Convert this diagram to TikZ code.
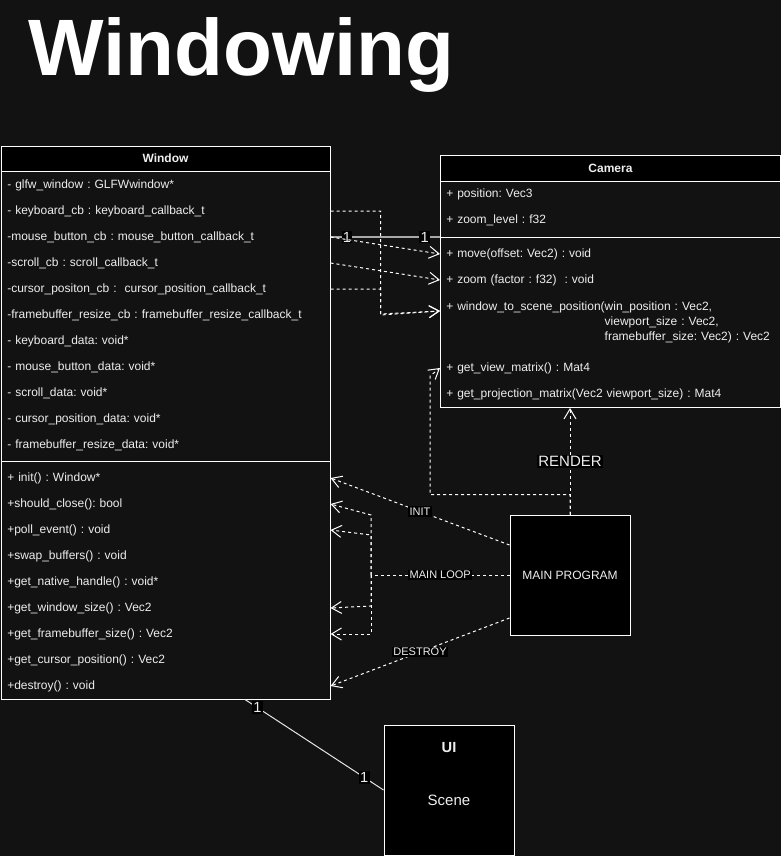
\documentclass[tikz,border=0pt]{standalone}
\usepackage{fontspec}
\setmainfont{Liberation Sans}
\usetikzlibrary{arrows.meta,positioning,calc}
\frenchspacing

\definecolor{bgdark}{HTML}{121212}
\definecolor{fgtext}{HTML}{EEEEEE}
\definecolor{assocline}{HTML}{A8A8A8}

\tikzset{
  classbox/.style={draw=white, fill=bgdark, line width=0.75pt, inner sep=0pt},
  classhead/.style={draw=white, fill=black, text=fgtext, font=\fontsize{9pt}{11pt}\selectfont\bfseries, inner sep=0pt, minimum height=18.75pt},
  member/.style={anchor=west, text=fgtext, font=\fontsize{9pt}{11.25pt}\selectfont, inner xsep=4.5pt, inner ysep=0pt, minimum height=19.5pt, align=left},
  wmember/.style={member, text width=237.75pt},
  cmember/.style={member, text width=246pt},
  dep/.style={draw=white, line width=0.75pt, dash pattern=on 2.25pt off 2.25pt, -{Straight Barb[length=7.5pt,width=9pt]}},
  plainbox/.style={draw=white, fill=black, line width=0.75pt, text=fgtext},
  lbl/.style={fill=black, text=fgtext, inner sep=1pt, font=\fontsize{8.25pt}{10pt}\selectfont},
  mult/.style={fill=black, text=fgtext, inner sep=1pt, font=\fontsize{11pt}{13pt}\selectfont},
}

\begin{document}
\begin{tikzpicture}[x=0.75pt, y=-0.75pt]
    \fill[bgdark] (0,0) rectangle (781,856);
    \useasboundingbox (0,0) rectangle (781,856);

    \node[anchor=base west, inner sep=0pt, text=white, font=\fontsize{60pt}{60pt}\selectfont\bfseries] (title) at (28,75) {Windowing};

    % Window class
    \node[classbox, minimum width=246.75pt, minimum height=414.75pt] (window) at (165.5,422.5) {};
    \node[classhead, minimum width=246.75pt, anchor=north] (whead) at (window.north) {Window};
    \foreach \txt [count=\i] in {- glfw\_window : GLFWwindow*, - keyboard\_cb : keyboard\_callback\_t,
        -mouse\_button\_cb : mouse\_button\_callback\_t, -scroll\_cb : scroll\_callback\_t,
        -cursor\_positon\_cb :\ \ cursor\_position\_callback\_t, -framebuffer\_resize\_cb : framebuffer\_resize\_callback\_t,
        - keyboard\_data: void*, - mouse\_button\_data: void*, - scroll\_data: void*,
        - cursor\_position\_data: void*, - framebuffer\_resize\_data: void*}
        \node[wmember] (wa\i) at (1,{185+26*(\i-1)}) {\txt};
    \draw[white, line width=0.75pt] (1,461) -- (330,461);
    \foreach \txt [count=\i] in {+ init() : Window*, +should\_close(): bool, +poll\_event() : void,
        +swap\_buffers() : void, +get\_native\_handle() : void*, +get\_window\_size() : Vec2,
        +get\_framebuffer\_size() : Vec2, +get\_cursor\_position() : Vec2, +destroy() : void}
        \node[wmember] (wm\i) at (1,{478+26*(\i-1)}) {\txt};

    % Camera class
    \node[classbox, minimum width=255pt, minimum height=189pt, anchor=north west] (camera) at (440,155) {};
    \node[classhead, minimum width=255pt, minimum height=19.5pt, anchor=north] (chead) at (camera.north) {Camera};
    \node[cmember] (cpos) at (440,194) {+ position: Vec3};
    \node[cmember] (czl) at (440,220) {+ zoom\_level : f32};
    \draw[white, line width=0.75pt] (440,237) -- (780,237);
    \node[cmember] (cmove) at (440,254) {+ move(offset: Vec2) : void};
    \node[cmember] (czoom) at (440,280) {+ zoom (factor : f32)\ \ : void};
    \node[cmember, anchor=north west] (cws) at (440,300) {\begin{tabular}{@{}l@{}l@{}}
        + window\_to\_scene\_position( & win\_position : Vec2,\\
         & viewport\_size : Vec2,\\
         & framebuffer\_size: Vec2) : Vec2\end{tabular}};
    \node[cmember] (cview) at (440,368) {+ get\_view\_matrix() : Mat4};
    \node[cmember] (cproj) at (440,394) {+ get\_projection\_matrix(Vec2 viewport\_size) : Mat4};

    \node[plainbox, minimum size=90pt, font=\fontsize{9pt}{11pt}\selectfont] (mp) at (570,575) {MAIN PROGRAM};

    \node[plainbox, minimum width=97.5pt, minimum height=97.5pt] (ui) at (449,790) {};
    \node[text=fgtext, font=\fontsize{11pt}{13pt}\selectfont\bfseries] (uiname) at (449,748) {UI};
    \node[text=fgtext, font=\fontsize{11.25pt}{13pt}\selectfont] (uiscene) at (449,800) {Scene};

    % window <-> camera
    \draw[assocline, line width=1pt] (wa3.east) -- (camera.west |- wa3.east)
        node[mult, pos=0.15] {1} node[mult, pos=0.86] {1};
    \draw[dep] (wa2.east) -- ++(50,0) -- ++(0,103) -- ($(cws.north west)+(0,11)$);
    \draw[dep] (wa5.east) -- ++(50,0) -- ++(0,26) -- ($(cws.north west)+(0,11)$);
    \draw[dep] (wa3.east) -- (cmove.west);
    \draw[dep] (wa4.east) -- (czoom.west);

    % main program
    \draw[dep] (mp.north) -- (mp.north |- camera.south)
        node[lbl, pos=0.5, font=\fontsize{11.25pt}{13pt}\selectfont] {RENDER};
    \draw[dep] (mp.north) -- ++(0,-20) -| ($(cview.west)+(-10,8)$) -- (cview.west);
    \draw[dep] ([yshift=22.5pt]mp.west) -- node[lbl] {INIT} (wm1.east);
    \coordinate (loop) at (371,575);
    \draw[dep, -] (mp.west) -- node[lbl] {MAIN LOOP} (loop);
    \draw[dep] (loop) -- ++(0,-60) -- (wm2.east);
    \draw[dep] (loop) -- ++(0,-40) -- (wm3.east);
    \draw[dep] (loop) -- ++(0,31) -- (wm6.east);
    \draw[dep] (loop) -- ++(0,59) -- (wm7.east);
    \draw[dep] ([yshift=-32.25pt]mp.west) -- node[lbl] {DESTROY} (wm9.east);

    % window <-> ui
    \draw[white!90!black, line width=0.75pt] ([xshift=59.6pt]window.south) -- (ui.west)
        node[mult, pos=0.09] {1} node[mult, pos=0.86] {1};
\end{tikzpicture}
\end{document}
